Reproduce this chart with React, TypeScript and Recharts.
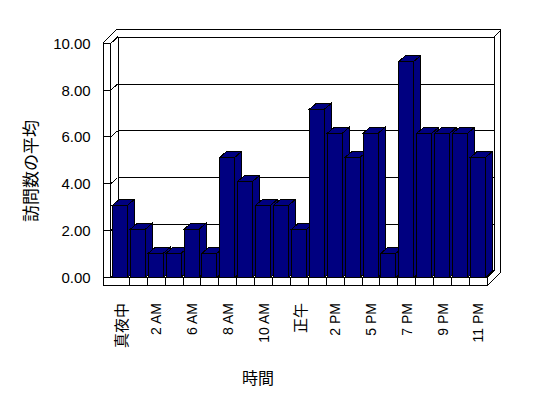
import React from 'react';
import { BarChart, Bar, XAxis, YAxis, CartesianGrid } from 'recharts';

// hourly categories (only every other one is labelled)
const hours = [
  '真夜中', '1 AM', '2 AM', '5 AM', '6 AM', '7 AM', '8 AM', '9 AM', '10 AM', '11 AM',
  '正午', '1 PM', '2 PM', '3 PM', '5 PM', '6 PM', '7 PM', '8 PM', '9 PM', '10 PM', '11 PM',
];
const visits = [3, 2, 1, 1, 2, 1, 5, 4, 3, 3, 2, 7, 6, 5, 6, 1, 9, 6, 6, 6, 5];
const yTicks = [0, 2, 4, 6, 8, 10];

const data = hours.map((h, i) => ({ hour: h, visits: visits[i] }));

const W = 548;
const H = 398;
// plot box (front plane)
const PL = 111.4;
const PR = 487.4;
const PT = 37.3;
const FY = 277.3; // floor top, front
const FB = 285.7; // floor bottom, front
const WX = 103; // left wall outer edge
const WI = 110.9; // left wall inner edge
const TOP = 43; // left wall top
const D = 6.6; // depth step
const BT = 37.3; // back wall top
const AXIS_K = 0.975; // wall scale vs. bar scale

const FONT = '"Liberation Sans", Arial, "Noto Sans CJK JP", sans-serif';
const CJK = '"Noto Sans CJK JP", sans-serif';

const wallY = (y: number) => FY - (FY - y) * AXIS_K;
const tickFront = (v: number) => FY - (FY - PT) * AXIS_K * (v / 10);

function Bar3D(props: any) {
  const { x, y, width, height } = props;
  if (height == null || height <= 0) return null;
  const dx = 7;
  const dy = 6;
  const xr = x + width;
  const yb = y + height;
  return (
    <g stroke="#000" strokeWidth={1} fill="#000080" shapeRendering="crispEdges">
      <polygon points={`${x},${y} ${x + dx},${y - dy} ${xr + dx},${y - dy} ${xr},${y}`} />
      <polygon points={`${xr},${y} ${xr + dx},${y - dy} ${xr + dx},${yb - dy} ${xr},${yb}`} />
      <rect x={x} y={y} width={width} height={height} />
    </g>
  );
}

function XTick(props: any) {
  const { x, payload } = props;
  const label = String(payload.value);
  const isCjk = /[^\x00-\x7f]/.test(label);
  const y = 303;
  return (
    <text
      x={x}
      y={y}
      transform={`rotate(-90, ${x}, ${y})`}
      textAnchor="end"
      dominantBaseline="central"
      fontSize={isCjk ? 15 : 14}
      fontFamily={isCjk ? CJK : FONT}
      fill="#000"
    >
      {label}
    </text>
  );
}

function YTick(props: any) {
  const { y, payload } = props;
  return (
    <text x={PL - 20.7} y={wallY(y)} textAnchor="end" dominantBaseline="central" fontSize={15} fontFamily={FONT} fill="#000">
      {Number(payload.value).toFixed(2)}
    </text>
  );
}

function gridLine(p: any) {
  const yb = wallY(p.y1) - 6;
  return (
    <line
      key={p.key ?? `g-${p.y1}`}
      x1={PL + D}
      x2={PR + D}
      y1={yb}
      y2={yb}
      stroke="#000"
      strokeWidth={1}
      shapeRendering="crispEdges"
    />
  );
}

function Frame() {
  const band = (PR - PL) / hours.length;
  const dividers = hours.slice(1).map((_, i) => PL + band * (i + 1));
  const line = { stroke: '#000', strokeWidth: 1, fill: 'none', shapeRendering: 'crispEdges' as const };
  return (
    <svg width={W} height={H} style={{ position: 'absolute', left: 0, top: 0 }}>
      {/* outer outline */}
      <path
        d={`M${WX},${FB} L${WX},${TOP} L${WX + 2 * D},${TOP - 2 * D} L${PR + 2 * D},${TOP - 2 * D} L${PR + 2 * D},${FB - 2 * D} L${PR},${FB} Z`}
        {...line}
      />
      {/* left wall front face */}
      <path d={`M${WX},${TOP} L${WI},${TOP} L${WI},${FY} L${PR},${FY} L${PR},${FB}`} {...line} />
      <line x1={WI} y1={TOP} x2={WI + D} y2={TOP - D} {...line} />
      {/* back wall front plane */}
      <path d={`M${PL + D},${FY - D} L${PL + D},${BT} L${PR + D},${BT} L${PR + D},${FY - D} L${PR},${FY}`} {...line} />
      <line x1={PR + D} y1={BT} x2={PR + 2 * D} y2={BT - D} {...line} />
      {/* wall ticks */}
      {yTicks.map((v) => {
        const yf = tickFront(v);
        return (
          <path key={v} d={`M${WX},${yf} L${WI},${yf} L${WI + D},${yf - 6}`} {...line} />
        );
      })}
      {/* floor dividers */}
      {dividers.map((x, i) => (
        <line key={i} x1={x} y1={FY} x2={x} y2={FB} {...line} />
      ))}
      {/* axis titles */}
      <text
        x={29}
        y={171}
        transform="rotate(-90, 29, 171)"
        textAnchor="middle"
        dominantBaseline="central"
        fontSize={17}
        fontFamily={CJK}
        fill="#000"
      >
        訪問数の平均
      </text>
      <text x={258} y={377} textAnchor="middle" dominantBaseline="central" fontSize={16} fontFamily={CJK} fill="#000">
        時間
      </text>
    </svg>
  );
}

export default function App() {
  return (
    <div style={{ position: 'absolute', left: 0, top: 0, width: W, height: H, background: '#fff' }}>
      <Frame />
      <div style={{ position: 'absolute', left: 0, top: 0 }}>
        <BarChart width={W} height={H} data={data} margin={{ top: PT, right: W - PR, bottom: 0, left: 0 }}>
          <CartesianGrid horizontal={gridLine} vertical={false} />
          <XAxis
            dataKey="hour"
            interval={1}
            height={H - FY}
            axisLine={false}
            tickLine={false}
            tick={<XTick />}
          />
          <YAxis
            domain={[0, 10]}
            ticks={yTicks}
            width={PL}
            axisLine={false}
            tickLine={false}
            tick={<YTick />}
          />
          <Bar dataKey="visits" barSize={15} shape={<Bar3D />} isAnimationActive={false} />
        </BarChart>
      </div>
    </div>
  );
}
